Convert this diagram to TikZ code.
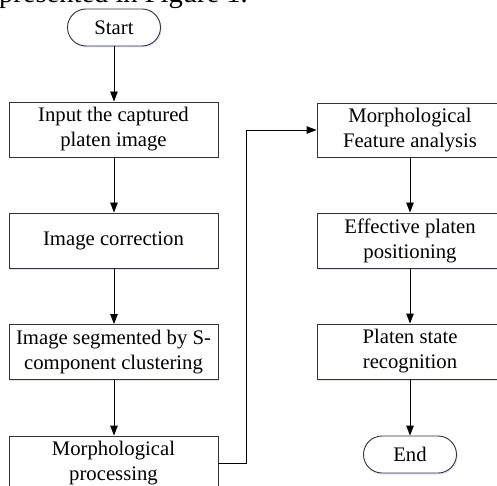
\documentclass[tikz,border=0pt]{standalone}
\usepackage{fontspec}
\setmainfont{Liberation Serif}
\usetikzlibrary{arrows.meta,shadows}
\begin{document}
\begin{tikzpicture}[x=1pt,y=-1pt,
  shadowed/.style={drop shadow={shadow xshift=1.2pt,shadow yshift=-1.5pt,fill=blue!25,opacity=0.45}},
  procbox/.style={draw=black!80,line width=0.9pt,fill=white,shadowed,minimum height=55pt,inner sep=0pt,align=center,font=\fontsize{20.7}{25}\selectfont},
  term/.style={draw=black!80,line width=0.9pt,fill=white,shadowed,rounded corners=18.5pt,minimum width=93pt,minimum height=37pt,inner sep=0pt,font=\fontsize{20.7}{25}\selectfont},
  flow/.style={draw=black,line width=0.9pt,-{Triangle[length=10pt,width=7.5pt]}}]
\useasboundingbox (0,0) rectangle (497,486);
\clip (0,0) rectangle (497,486);
\node[anchor=base west,inner sep=0pt,font=\fontsize{28.5}{30}\selectfont] (cap) at (-1,2.5) {presented in Figure 1.};
\node[term] (start) at (114,27.5) {Start};
\node[procbox,minimum width=209pt] (input) at (113.5,129.5) {Input the captured\\platen image};
\node[procbox,minimum width=209pt] (corr) at (113.5,240.5) {Image correction};
\node[procbox,minimum width=209pt] (seg) at (113.5,352) {Image segmented by S-\\component clustering};
\node[procbox,minimum width=209pt] (proc) at (113.5,463.5) {Morphological\\processing};
\node[procbox,minimum width=186pt,minimum height=54pt] (feat) at (410,130) {Morphological\\Feature analysis};
\node[procbox,minimum width=186pt] (eff) at (410,240.5) {Effective platen\\positioning};
\node[procbox,minimum width=186pt] (state) at (410,351.5) {Platen state\\recognition};
\node[term] (end) at (410,454.5) {End};
\draw[flow] (start.south -| 114,0) -- (114,0 |- input.north);
\draw[flow] (114,0 |- input.south) -- (114,0 |- corr.north);
\draw[flow] (114,0 |- corr.south) -- (114,0 |- seg.north);
\draw[flow] (114,0 |- seg.south) -- (114,0 |- proc.north);
\coordinate (k1) at (246,463.5);
\coordinate (k2) at (246,130);
\draw[flow] (proc.east) -- (k1) -- (k2) -- (feat.west);
\draw[flow] (feat.south) -- (eff.north);
\draw[flow] (eff.south) -- (state.north);
\draw[flow] (state.south) -- (end.north);
\end{tikzpicture}
\end{document}
